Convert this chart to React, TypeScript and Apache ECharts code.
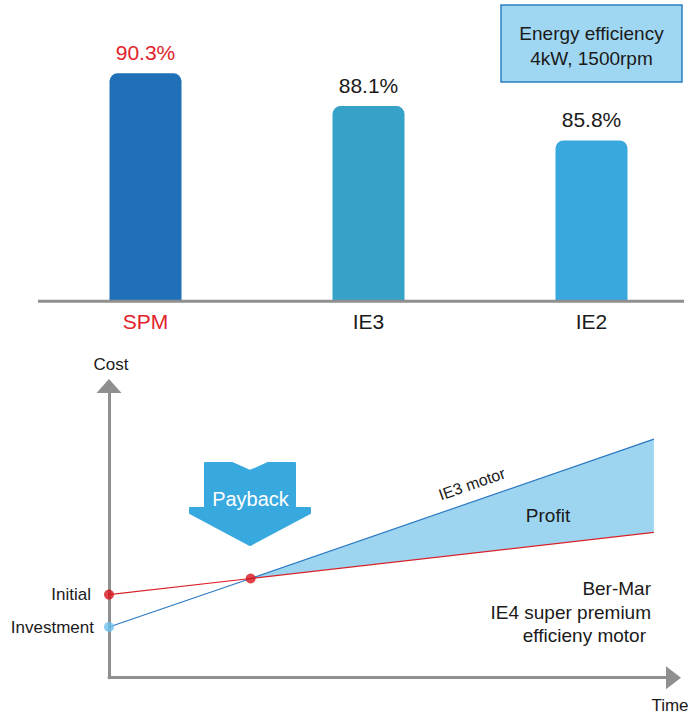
import React, { useEffect, useRef } from "react";
import * as echarts from "echarts";

// ---- Top chart data ----
const categories = ["SPM", "IE3", "IE2"];
const efficiency = [90.3, 88.1, 85.8];
const barColors = ["#1f70b7", "#36a2c8", "#38a8de"];
const labelColors = ["#e3222b", "#1a1a1a", "#1a1a1a"];

// ---- Bottom diagram data ----
const timePoints = [0, 2.6, 10];
const berMarCost = [2.85, 3.4, 4.98];
const ie3Cost = [1.74, 3.4, 8.18];

const FONT = "Liberation Sans, Arial, Helvetica, sans-serif";
const TXT = "#1a1a1a";
const AXIS_GRAY = "#8f8f8f";

function txt(
  text: string,
  x: number,
  y: number,
  size: number,
  align: string,
  fill = TXT,
  extra: any = {}
) {
  return {
    type: "text",
    x,
    y,
    z: 20,
    ...extra,
    style: {
      text,
      fill,
      fontSize: size,
      fontFamily: FONT,
      align,
      verticalAlign: "middle",
      textAlign: align,
      textVerticalAlign: "middle",
    },
  };
}

export default function App() {
  const ref = useRef<HTMLDivElement>(null);

  useEffect(() => {
    document.body.style.margin = "0";
    const chart = echarts.init(ref.current!, null, { renderer: "svg" });

    const option: any = {
      animation: false,
      backgroundColor: "#ffffff",
      textStyle: { fontFamily: FONT },
      grid: [
        {
          left: 34,
          width: 669,
          top: 3.3,
          bottom: 411.7,
          containLabel: false,
          outerBoundsMode: "none",
        },
        {
          left: 109,
          right: 24.5,
          top: 386,
          bottom: 35.3,
          containLabel: false,
          outerBoundsMode: "none",
        },
      ],
      xAxis: [
        {
          type: "category",
          gridIndex: 0,
          data: categories,
          boundaryGap: true,
          axisLine: { show: false },
          axisTick: { show: false },
          axisLabel: {
            margin: 10,
            fontSize: 21,
            fontFamily: FONT,
            color: (val: string) => labelColors[categories.indexOf(val)] || TXT,
          },
        },
        {
          type: "value",
          gridIndex: 1,
          min: 0,
          max: 10.36,
          splitLine: { show: false },
          axisTick: { show: false },
          axisLabel: { show: false },
          axisLine: {
            show: true,
            symbol: ["none", "triangle"],
            symbolSize: [23, 15],
            lineStyle: { color: AXIS_GRAY, width: 3 },
          },
        },
      ],
      yAxis: [
        {
          type: "value",
          gridIndex: 0,
          min: 75,
          max: 95,
          show: false,
        },
        {
          type: "value",
          gridIndex: 1,
          min: 0,
          max: 10,
          splitLine: { show: false },
          axisTick: { show: false },
          axisLabel: { show: false },
          axisLine: {
            show: true,
            symbol: ["none", "triangle"],
            symbolSize: [25, 14],
            lineStyle: { color: AXIS_GRAY, width: 3 },
          },
        },
      ],
      series: [
        {
          type: "bar",
          xAxisIndex: 0,
          yAxisIndex: 0,
          barWidth: 72,
          data: efficiency.map((v, i) => ({
            value: v,
            itemStyle: { color: barColors[i], borderRadius: [8, 8, 0, 0] },
            label: { color: labelColors[i] },
          })),
          label: {
            show: true,
            position: "top",
            distance: 10,
            fontSize: 21,
            fontFamily: FONT,
            formatter: (p: any) => p.value.toFixed(1) + "%",
          },
        },
        {
          type: "custom",
          xAxisIndex: 1,
          yAxisIndex: 1,
          clip: false,
          z: 1,
          data: [[timePoints[1], berMarCost[1]]],
          renderItem: (params: any, api: any) => {
            const n = timePoints.length - 1;
            const pts = [
              api.coord([timePoints[1], berMarCost[1]]),
              api.coord([timePoints[n], ie3Cost[n]]),
              api.coord([timePoints[n], berMarCost[n]]),
            ];
            return {
              type: "polygon",
              shape: { points: pts },
              style: { fill: "#9dd5f0" },
            };
          },
        },
        {
          type: "line",
          xAxisIndex: 1,
          yAxisIndex: 1,
          z: 3,
          showSymbol: false,
          data: timePoints.map((t, i) => [t, ie3Cost[i]]),
          lineStyle: { color: "#2b78c2", width: 1.2 },
        },
        {
          type: "line",
          xAxisIndex: 1,
          yAxisIndex: 1,
          z: 3,
          showSymbol: false,
          data: timePoints.map((t, i) => [t, berMarCost[i]]),
          lineStyle: { color: "#d9232b", width: 1.2 },
        },
        {
          type: "scatter",
          xAxisIndex: 1,
          yAxisIndex: 1,
          z: 4,
          symbolSize: 10,
          data: [
            [timePoints[0], berMarCost[0]],
            [timePoints[1], berMarCost[1]],
          ],
          itemStyle: { color: "#d4141c" },
        },
        {
          type: "scatter",
          xAxisIndex: 1,
          yAxisIndex: 1,
          z: 4,
          symbolSize: 10,
          data: [[timePoints[0], ie3Cost[0]]],
          itemStyle: { color: "#6cc0ec" },
        },
      ],
      graphic: [
        // top chart baseline
        {
          type: "line",
          shape: { x1: 38, y1: 301.3, x2: 684, y2: 301.3 },
          style: { stroke: AXIS_GRAY, lineWidth: 3 },
          z: 10,
        },
        // info box
        {
          type: "rect",
          shape: { x: 501, y: 5, width: 181, height: 77 },
          style: { fill: "#9fd6f1", stroke: "#2c7fc4", lineWidth: 1.5 },
          z: 10,
        },
        txt("Energy efficiency", 591.5, 33.5, 19, "center"),
        txt("4kW, 1500rpm", 591.5, 58.5, 19, "center"),
        // payback arrow
        {
          type: "polygon",
          shape: {
            points: [
              [205, 463],
              [232, 463],
              [250, 471],
              [268, 463],
              [295, 463],
              [295, 508],
              [310, 508],
              [310, 513],
              [250, 545],
              [190, 513],
              [190, 508],
              [205, 508],
            ],
          },
          style: { fill: "#38a9df", stroke: "#38a9df", lineWidth: 2, lineJoin: "round" },
          z: 10,
        },
        txt("Payback", 250.5, 499, 20, "center", "#ffffff"),
        // axis titles and annotations
        txt("Cost", 111, 364.5, 17, "center"),
        txt("Time", 670, 705, 17, "center"),
        txt("Initial", 91, 594, 17, "right"),
        txt("Investment", 94, 627.5, 17, "right"),
        txt("IE3 motor", 472, 484, 16, "center", TXT, { rotation: 0.335 }),
        txt("Profit", 548, 515, 19, "center"),
        txt("Ber-Mar", 651, 588, 19, "right"),
        txt("IE4 super premium", 651, 612, 19, "right"),
        txt("efficieny motor", 646, 635.5, 19, "right"),
      ],
    };

    chart.setOption(option);
    return () => chart.dispose();
  }, []);

  return <div ref={ref} style={{ width: 698, height: 713 }} />;
}
